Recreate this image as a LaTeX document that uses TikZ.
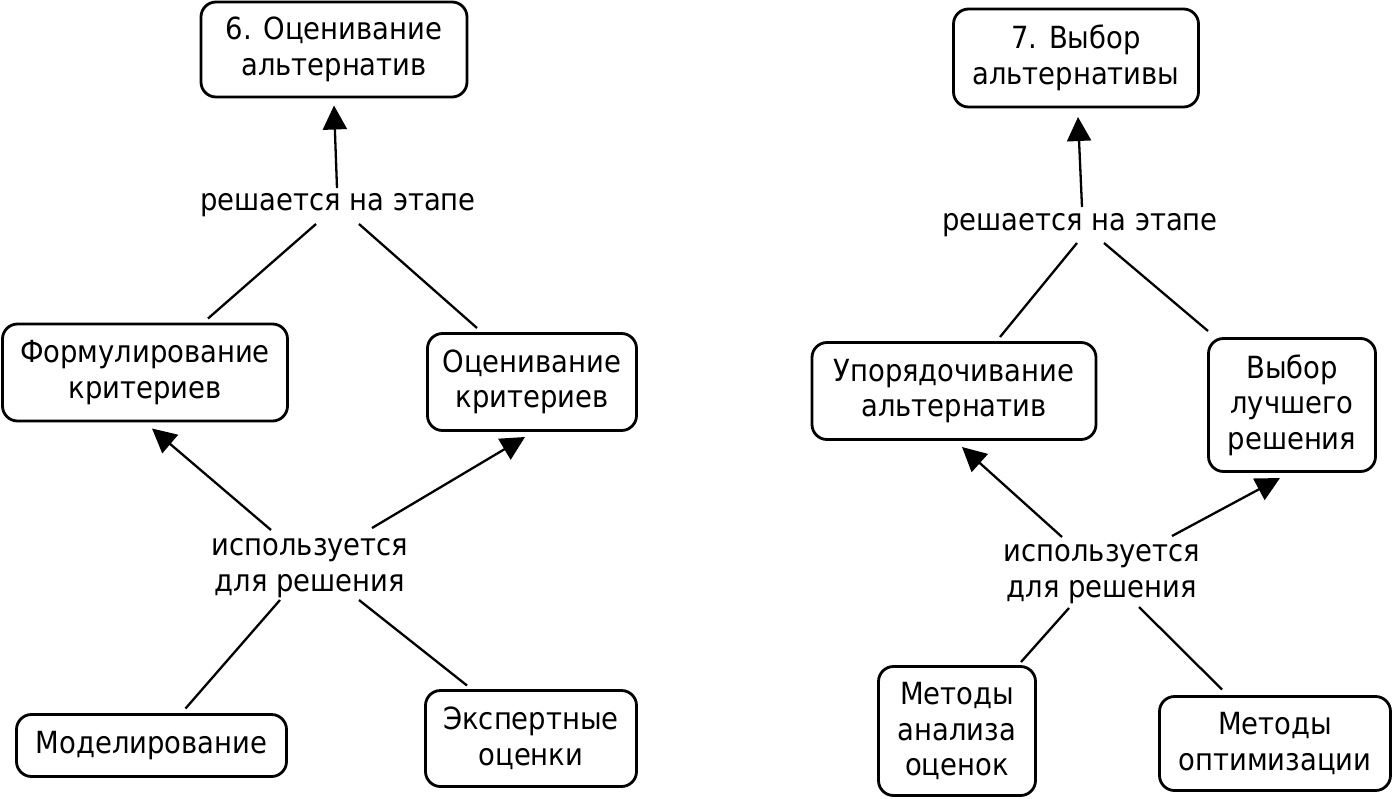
\documentclass[tikz,border=0pt]{standalone}
\usepackage{fontspec}
\setmainfont{DejaVu Sans Condensed}
\usetikzlibrary{arrows.meta,calc}
\begin{document}
\begin{tikzpicture}[x=1pt,y=-1pt,
  txt/.style={font=\fontsize{30.5}{35.5}\selectfont},
  box/.style={txt, draw, line width=2.8pt, rounded corners=15pt, align=center, inner sep=0pt},
  lbl/.style={txt, align=center, inner sep=0pt},
  conn/.style={line width=2.3pt},
  arr/.style={conn, -{Triangle[length=24pt,width=24pt]}}]
\useasboundingbox (0,0) rectangle (1395,798);
% left cluster
\node[box, minimum width=266pt, minimum height=95pt] (a6) at (334,49.5) {6. Оценивание\\альтернатив};
\node[lbl] (l1) at (338,205) {решается на этапе};
\node[box, minimum width=285pt, minimum height=97pt] (f) at (145,372.5) {Формулирование\\критериев};
\node[box, minimum width=209pt, minimum height=97pt] (o) at (532,382) {Оценивание\\критериев};
\node[lbl] (l2) at (310,568) {используется\\для решения};
\node[box, minimum width=270pt, minimum height=62pt] (m) at (151.5,745.5) {Моделирование};
\node[box, minimum width=211pt, minimum height=96pt] (e) at (531,738.5) {Экспертные\\оценки};
% right cluster
\node[box, minimum width=245pt, minimum height=98pt] (a7) at (1076,58) {7. Выбор\\альтернативы};
\node[lbl] (l3) at (1080,225) {решается на этапе};
\node[box, minimum width=284pt, minimum height=97pt] (u) at (954,391) {Упорядочивание\\альтернатив};
\node[box, minimum width=167pt, minimum height=133pt] (v) at (1292,405) {Выбор\\лучшего\\решения};
\node[lbl] (l4) at (1102,574) {используется\\для решения};
\node[box, minimum width=157pt, minimum height=129pt] (ma) at (957,731) {Методы\\анализа\\оценок};
\node[box, minimum width=231pt, minimum height=94pt] (mo) at (1275,743.5) {Методы\\оптимизации};
% connectors left
\draw[arr] ($(l1)+(-1,-17)$) -- ($(a6)+(0,56)$);
\draw[conn] ($(l1)+(-22,19)$) -- ($(f)+(63,-54)$);
\draw[conn] ($(l1)+(21,19)$) -- ($(o)+(-55,-54)$);
\draw[arr] ($(l2)+(-39,-38)$) -- ($(f)+(7,56)$);
\draw[arr] ($(l2)+(62,-40)$) -- ($(o)+(-7,55)$);
\draw[conn] ($(l2)+(-30,32)$) -- ($(m)+(34,-37)$);
\draw[conn] ($(l2)+(49,32)$) -- ($(e)+(-64,-53)$);
% connectors right
\draw[arr] ($(l3)+(2,-18)$) -- ($(a7)+(2,59)$);
\draw[conn] ($(l3)+(-3,18)$) -- ($(u)+(46,-54)$);
\draw[conn] ($(l3)+(24,18)$) -- ($(v)+(-84,-74)$);
\draw[arr] ($(l4)+(-40,-37)$) -- ($(u)+(8,56)$);
\draw[arr] ($(l4)+(70,-38)$) -- ($(v)+(-12,73)$);
\draw[conn] ($(l4)+(-33,34)$) -- ($(ma)+(64,-69)$);
\draw[conn] ($(l4)+(37,33)$) -- ($(mo)+(-53,-54)$);
\end{tikzpicture}
\end{document}
